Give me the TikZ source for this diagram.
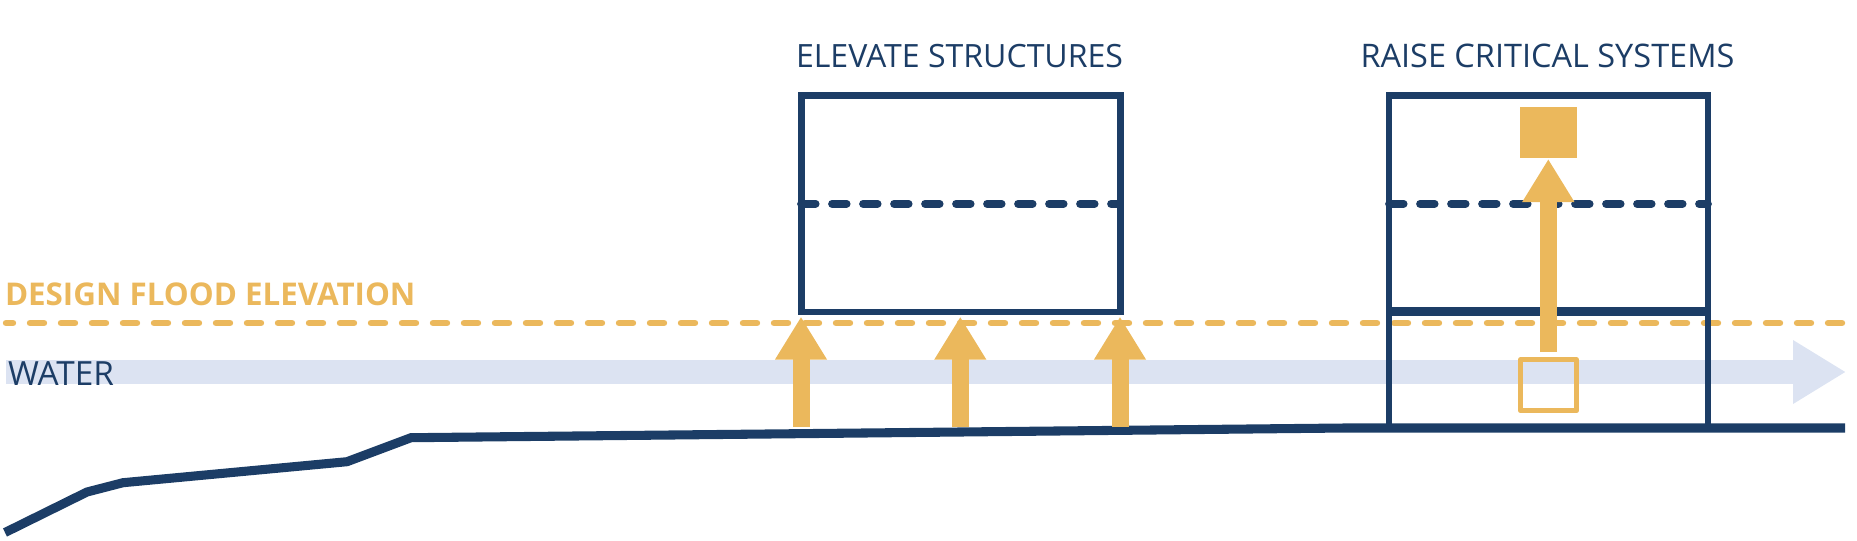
\documentclass[tikz,border=0pt]{standalone}
\usepackage{fontspec}
\setmainfont{Open Sans}
\usetikzlibrary{arrows.meta}
\definecolor{navy}{HTML}{1C3D66}
\definecolor{gold}{HTML}{EBB85C}
\definecolor{waterblue}{HTML}{DCE3F2}
\tikzset{
  x=0.75pt,y=-0.75pt,
  label text/.style={anchor=base west,inner sep=0pt,outer sep=0pt,font=\fontsize{24.05pt}{28pt}\selectfont,text=navy},
  building/.style={draw=navy,line width=5.1pt,anchor=north west,inner sep=0pt,outer sep=0pt,minimum width=239.25pt,fill=none},
  navy dash/.style={draw=navy,line width=5.8pt,line cap=round,dash pattern=on 11pt off 12.25pt},
  gold dash/.style={draw=gold,line width=4.8pt,line cap=round,dash pattern=on 10.5pt off 12.75pt,dash phase=5.25pt},
  lift arrow/.style={draw=gold,line width=12.75pt,-{Triangle[width=36.75pt,length=32.25pt]}},
  water arrow/.style={draw=waterblue,line width=18.2pt,-{Triangle[width=45pt,length=39.75pt]}},
  ground/.style={draw=navy,line width=6.8pt,line join=miter}
}
\begin{document}
\begin{tikzpicture}
\useasboundingbox (0,0) rectangle (1857,540);
% coordinates
\coordinate (ws) at (6,372);
\coordinate (we) at (1846,372);
\coordinate (gs) at (6,323);
\coordinate (ge) at (1845,323);
% water
\draw[water arrow] (ws) -- (we);
% gold design flood line
\draw[gold dash] (gs) -- (ge);
% ground
\coordinate (g0) at (5,532.5);
\coordinate (g1) at (87,492);
\coordinate (g2) at (123,482.7);
\coordinate (g3) at (347,461.7);
\coordinate (g4) at (411,437.7);
\coordinate (g5) at (1345,428);
\coordinate (g6) at (1845,428);
\draw[ground] (g0) -- (g1) -- (g2) -- (g3) -- (g4) -- (g5) -- (g6);
% building 1
\node[building,minimum height=162.5pt] (b1) at (801.3,95.3) {};
\coordinate (b1l) at (801,203.7);
\coordinate (b1r) at (1119.5,203.7);
\draw[navy dash] (b1l) -- (b1r);
% building 2
\node[building,minimum height=249.5pt] (b2) at (1389,95.3) {};
\coordinate (fl) at (1389,311.3);
\coordinate (fr) at (1708,311.3);
\draw[navy,line width=6.4pt] (fl) -- (fr);
\coordinate (b2l) at (1389,203.7);
\coordinate (b2r) at (1708,203.7);
\draw[navy dash] (b2l) -- (b2r);
% arrows building 1
\coordinate (a1s) at (801,426.7);
\coordinate (a1t) at (801,316.7);
\coordinate (a2s) at (960.3,426.7);
\coordinate (a2t) at (960.3,316.7);
\coordinate (a3s) at (1120,426.7);
\coordinate (a3t) at (1120,316.7);
\draw[lift arrow] (a1s) -- (a1t);
\draw[lift arrow] (a2s) -- (a2t);
\draw[lift arrow] (a3s) -- (a3t);
% raised system
\node[fill=gold,inner sep=0pt,outer sep=0pt,minimum width=42.75pt,minimum height=38.5pt,anchor=north west] (sysup) at (1520,107) {};
\node[draw=gold,line width=3.4pt,line join=round,inner sep=0pt,outer sep=0pt,minimum width=42.3pt,minimum height=38.25pt,anchor=north west] (sysdown) at (1520.3,359.7) {};
\coordinate (a4s) at (1548.3,352);
\coordinate (a4t) at (1548.3,159);
\draw[lift arrow] (a4s) -- (a4t);
% labels
\node[label text] (t1) at (796,67.7) {ELEVATE STRUCTURES};
\node[label text,font=\fontsize{24.35pt}{28pt}\selectfont] (t2) at (1360.5,67.7) {RAISE CRITICAL SYSTEMS};
\node[label text,text=gold,font=\fontsize{23.5pt}{28pt}\selectfont\bfseries] (t3) at (5,305.7) {DESIGN FLOOD ELEVATION};
\node[label text,font=\fontsize{25pt}{28pt}\selectfont] (t4) at (8,385.7) {WATER};
\end{tikzpicture}
\end{document}
